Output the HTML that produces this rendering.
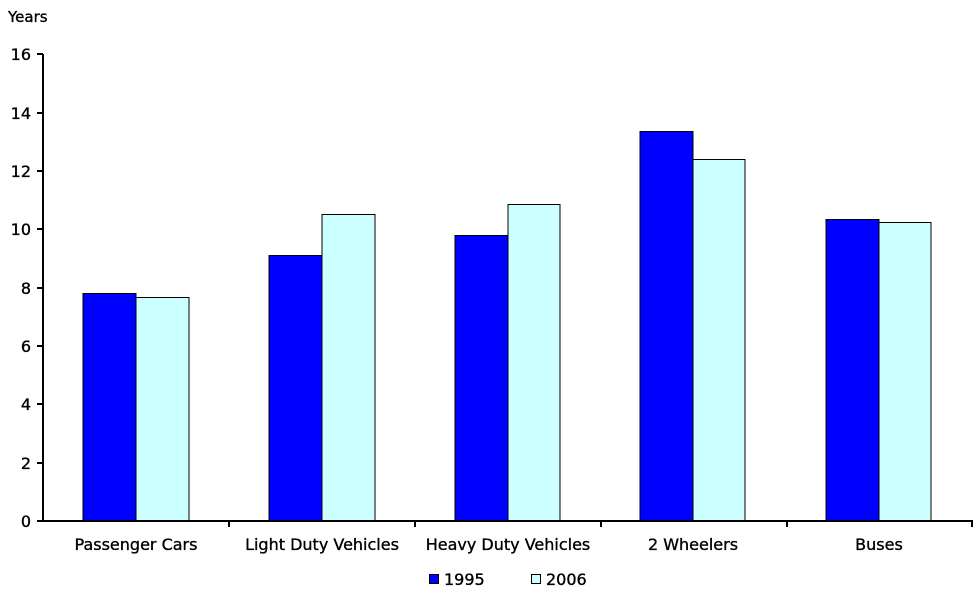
<!DOCTYPE html>
<html><head><style>body{margin:0;background:#fff}svg{display:block}text{font-family:"DejaVu Sans","Liberation Sans",sans-serif;font-size:16px;fill:#000;stroke:#000;stroke-width:0.35}</style></head>
<body>
<svg width="977" height="600" viewBox="0 0 977 600" xmlns="http://www.w3.org/2000/svg">
<text x="8" y="22" style="font-size:15px">Years</text>
<g stroke="#000" stroke-width="1">
<rect x="83" y="293.5" width="53" height="227.5" fill="#0000FF"/>
<rect x="136" y="297.5" width="53" height="223.5" fill="#CCFFFF"/>
<rect x="269" y="255.5" width="53" height="265.5" fill="#0000FF"/>
<rect x="322" y="214.5" width="53" height="306.5" fill="#CCFFFF"/>
<rect x="455" y="235.5" width="53" height="285.5" fill="#0000FF"/>
<rect x="508" y="204.5" width="52" height="316.5" fill="#CCFFFF"/>
<rect x="640" y="131.5" width="53" height="389.5" fill="#0000FF"/>
<rect x="693" y="159.5" width="52" height="361.5" fill="#CCFFFF"/>
<rect x="826" y="219.5" width="53" height="301.5" fill="#0000FF"/>
<rect x="879" y="222.5" width="52" height="298.5" fill="#CCFFFF"/>
</g>
<g stroke="#000" stroke-width="2">
<line x1="43" y1="54" x2="43" y2="522"/>
<line x1="42" y1="521" x2="973" y2="521"/>
<line x1="37" y1="54" x2="43" y2="54"/>
<line x1="37" y1="113" x2="43" y2="113"/>
<line x1="37" y1="171" x2="43" y2="171"/>
<line x1="37" y1="229" x2="43" y2="229"/>
<line x1="37" y1="288" x2="43" y2="288"/>
<line x1="37" y1="346" x2="43" y2="346"/>
<line x1="37" y1="404" x2="43" y2="404"/>
<line x1="37" y1="463" x2="43" y2="463"/>
<line x1="37" y1="521" x2="43" y2="521"/>
<line x1="229" y1="521" x2="229" y2="527"/>
<line x1="415" y1="521" x2="415" y2="527"/>
<line x1="601" y1="521" x2="601" y2="527"/>
<line x1="787" y1="521" x2="787" y2="527"/>
<line x1="972" y1="521" x2="972" y2="527"/>
</g>
<g text-anchor="end">
<text x="31" y="60">16</text><text x="31" y="119">14</text><text x="31" y="177">12</text>
<text x="31" y="235">10</text><text x="31" y="294">8</text><text x="31" y="352">6</text>
<text x="31" y="410">4</text><text x="31" y="469">2</text><text x="31" y="527">0</text>
</g>
<g text-anchor="middle">
<text x="136" y="550">Passenger Cars</text>
<text x="322" y="550">Light Duty Vehicles</text>
<text x="508" y="550">Heavy Duty Vehicles</text>
<text x="693" y="550">2 Wheelers</text>
<text x="879" y="550">Buses</text>
</g>
<rect x="429.5" y="574.5" width="9" height="9" fill="#0000FF" stroke="#000"/>
<text x="444" y="585">1995</text>
<rect x="531.5" y="574.5" width="9" height="9" fill="#CCFFFF" stroke="#000"/>
<text x="546" y="585">2006</text>
</svg>
</body></html>
